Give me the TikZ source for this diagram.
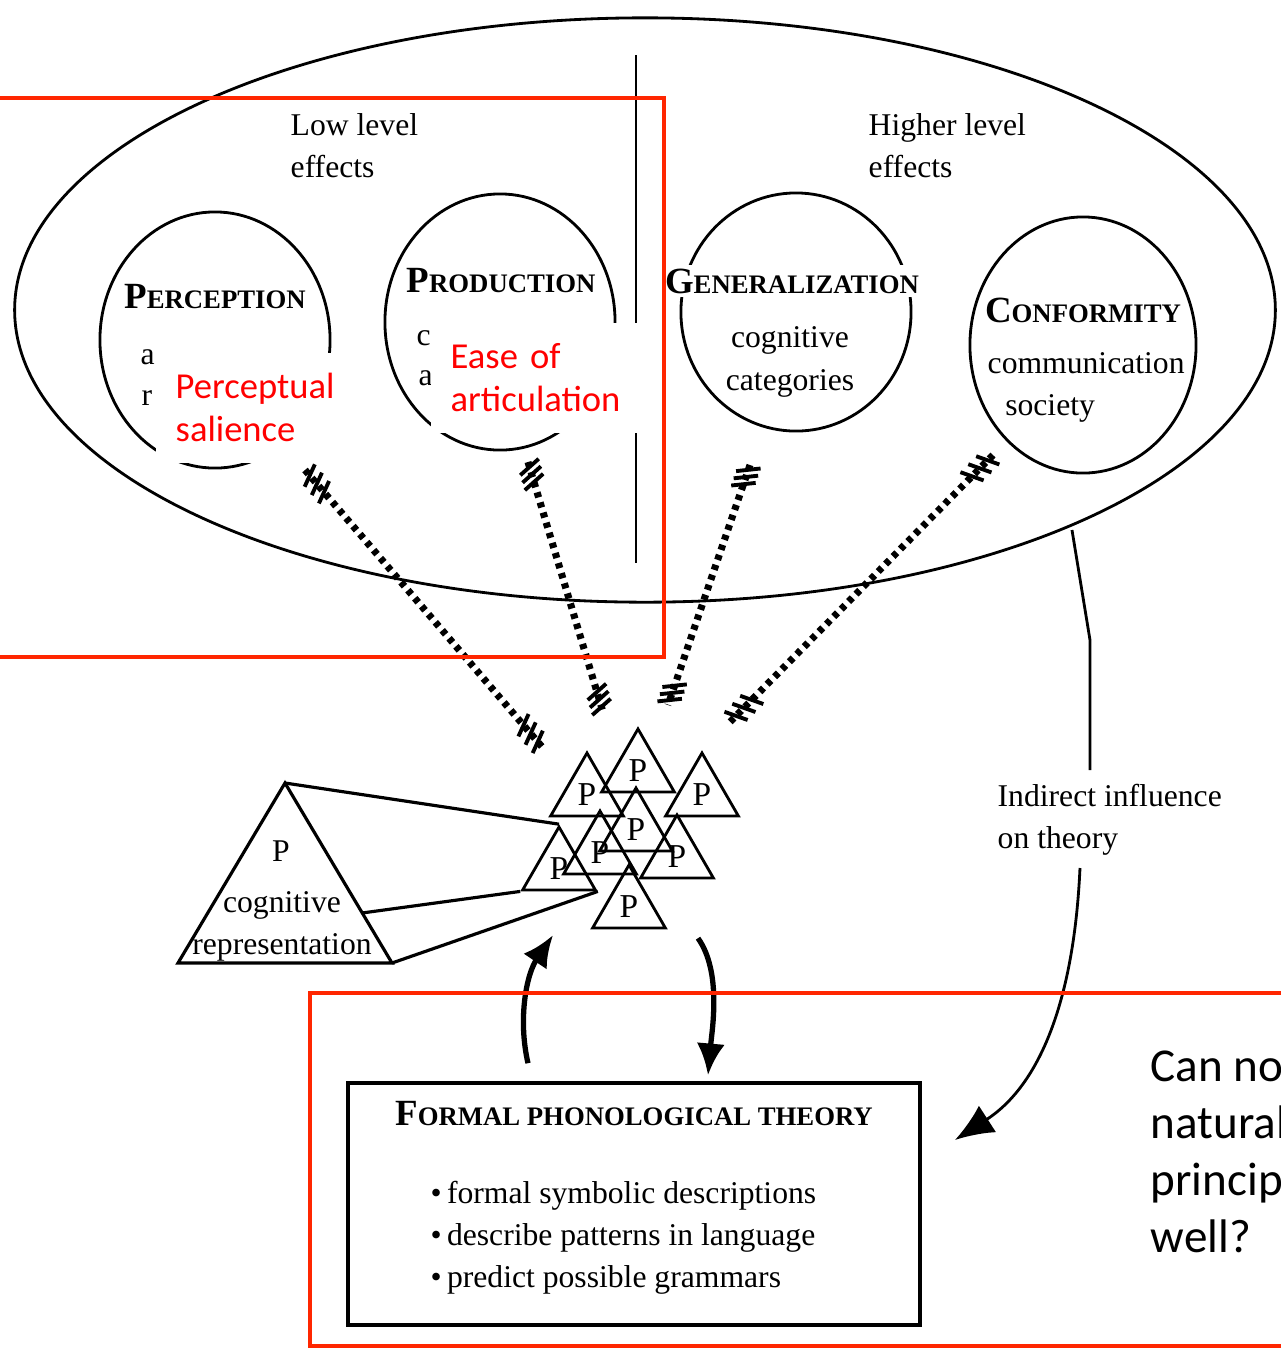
\documentclass[tikz,border=0pt]{standalone}
\usepackage{fontspec}
\setmainfont{Liberation Serif}
\newfontfamily\slidefont{Carlito}
\usetikzlibrary{positioning,arrows.meta,calc,shapes,decorations.markings}
\definecolor{slidered}{RGB}{255,38,0}

% bold fake small caps: big first letter, small rest
\newcommand{\capsc}[2]{{\bfseries\fontsize{10.5}{12}\selectfont #1\fontsize{7.6}{9}\selectfont #2}}

\tikzset{
    x=0.01cm,
    y=-0.01cm,
    effect/.style = {
        draw,
        shape=ellipse,
        inner sep=0pt,
        line width=0.8pt
    },
    efftitle/.style = {
        fill=white,
        inner sep=1pt
    },
    efftext/.style = {
        font=\fontsize{9}{12}\selectfont,
        align=left,
        inner sep=0pt
    },
    ptri/.style = {
        draw,
        shape=regular polygon,
        regular polygon sides=3,
        minimum size=0.84cm,
        inner sep=0pt,
        line width=0.8pt,
        font=\fontsize{9.5}{10}\selectfont
    },
    tick/.style = {
        solid,
        line width=1.1pt,
        rotate=25
    },
    hatched/.style = {
        line width=2pt,
        dash pattern=on 1.5pt off 1.5pt,
        postaction={decorate, decoration={markings,
            mark=at position 0.02 with {\draw[tick] (0,-3.5pt) -- (0,3.5pt);},
            mark=at position 0.05 with {\draw[tick] (0,-3.5pt) -- (0,3.5pt);},
            mark=at position 0.08 with {\draw[tick] (0,-3.5pt) -- (0,3.5pt);},
            mark=at position 0.92 with {\draw[tick] (0,-3.5pt) -- (0,3.5pt);},
            mark=at position 0.95 with {\draw[tick] (0,-3.5pt) -- (0,3.5pt);},
            mark=at position 0.98 with {\draw[tick] (0,-3.5pt) -- (0,3.5pt);}}}
    },
    redbox/.style = {
        draw=slidered,
        line width=1.2pt
    },
    note/.style = {
        fill=white,
        text=red,
        font=\slidefont\fontsize{10.4}{12.2}\selectfont,
        align=left,
        anchor=north west,
        minimum width=2.1cm,
        minimum height=1.1cm,
        text width=1.8cm,
        inner xsep=0.2cm
    },
    thickarrow/.style = {
        line width=1.5pt,
        -{Latex[length=9pt,width=8pt]}
    },
}

\begin{document}
\begin{tikzpicture}
    \useasboundingbox (0,0) rectangle (1281,1350);
    \clip (0,0) rectangle (1281,1350);

    % outer ellipse with the two halves
    \node[effect, minimum width=12.6cm, minimum height=5.84cm] (outer) at (645,310) {};
    \coordinate (divTop) at (636,55);
    \coordinate (divBot) at (636,563);
    \draw[line width=0.8pt] (divTop) -- (divBot);

    \node[efftext, anchor=north west] (low) at (290,113) {Low level\\effects};
    \node[efftext, anchor=north west] (high) at (868,113) {Higher level\\effects};

    % the four effects
    \node[effect, minimum width=2.30cm, minimum height=2.56cm] (perc) at (215,340) {};
    \node[effect, minimum width=2.30cm, minimum height=2.56cm] (prod) at (500,322) {};
    \node[effect, minimum width=2.30cm, minimum height=2.38cm] (gen) at (796,312) {};
    \node[effect, minimum width=2.26cm, minimum height=2.56cm] (conf) at (1083,345) {};

    \node[efftitle] (percT) at (215,297) {\capsc{P}{ERCEPTION}};
    \node[efftitle] (prodT) at (501,281) {\capsc{P}{RODUCTION}};
    \node[efftitle] (genT) at (792,281) {\capsc{G}{ENERALIZATION}};
    \node[efftitle] (confT) at (1083,310) {\capsc{C}{ONFORMITY}};

    \node[efftext, anchor=west] (percA) at (140,357) {a};
    \node[efftext, anchor=west] (percR) at (141,398) {r};
    \node[efftext, anchor=west] (prodC) at (416,338) {c};
    \node[efftext, anchor=west] (prodA) at (418,378) {a};
    \node[efftext, align=center] (genS) at (790,362) {cognitive\\categories};
    \node[efftext, anchor=north west] (confS) at (987,352) {communication\\\hspace{5pt}society};

    % dotted influence lines
    \coordinate (percOut) at (305,470);
    \coordinate (prodOut) at (528,462);
    \coordinate (genOut) at (750,465);
    \coordinate (confOut) at (993,455);
    \coordinate (percIn) at (543,748);
    \coordinate (prodIn) at (603,712);
    \coordinate (genIn) at (668,705);
    \coordinate (confIn) at (730,722);
    \draw[hatched] (percOut) -- (percIn);
    \draw[hatched] (prodOut) -- (prodIn);
    \draw[hatched] (genOut) -- (genIn);
    \draw[hatched] (confOut) -- (confIn);

    % cluster of P triangles
    \node[ptri] (t4) at (636,830) {P};
    \node[ptri] (t1) at (638,771) {P};
    \node[ptri] (t2) at (587,795) {P};
    \node[ptri] (t3) at (702,795) {P};
    \node[ptri] (t5) at (600,853) {P};
    \node[ptri] (t6) at (677,857) {P};
    \node[ptri] (t7) at (559,869) {P};
    \node[ptri] (t8) at (629,907) {P};

    % cognitive representation prism
    \coordinate (bigTop) at (285,783);
    \coordinate (bigLeft) at (178,963);
    \coordinate (bigRight) at (392,963);
    \coordinate (bigMid) at (362,913);
    \draw[line width=0.9pt] (bigTop) -- (bigLeft) -- (bigRight) -- cycle;
    \draw[line width=0.9pt] (bigTop) -- (t7.corner 1);
    \draw[line width=0.9pt] (bigMid) -- (t7.corner 2);
    \draw[line width=0.9pt] (bigRight) -- (t7.corner 3);
    \node[efftext] (bigP) at (281,851) {P};
    \node[efftext, align=center] (bigS) at (282,926) {cognitive\\representation};

    % formal theory box
    \node[draw, line width=1pt, minimum width=5.72cm, minimum height=2.42cm] (formal) at (634,1204) {};
    \node (formalT) at (634,1114) {\capsc{F}{ORMAL PHONOLOGICAL THEORY}};
    \node[efftext, anchor=north west] (formalS) at (430,1180)
        {\textbullet\,formal symbolic descriptions\\\textbullet\,describe patterns in language\\\textbullet\,predict possible grammars};

    \draw[thickarrow] ($(formal.north)+(-106,-18)$) .. controls (518,1020) and (526,975) .. ($(formal.north)+(-81,-146)$);
    \draw[thickarrow] ($(formal.north)+(64,-143)$) .. controls (722,972) and (712,1030) .. ($(formal.north)+(74,-6)$);

    % indirect influence
    \node[efftext, anchor=north west] (infl) at (997,783) {Indirect influence\\on theory};
    \coordinate (inflStart) at (1072,530);
    \coordinate (inflEnd) at (1080,868);
    \draw[line width=0.8pt] (inflStart) -- (1090,640) -- (1090,770);
    \draw[line width=0.8pt, -{Latex[length=11pt,width=9pt]}] (inflEnd) .. controls (1074,1000) and (1040,1085) .. ($(formal.east)+(33,-64)$);

    % slide overlay
    \draw[redbox] (-20,98) rectangle (664,657);
    \draw[redbox] (310,993) rectangle (1300,1346);
    \node[note] (salience) at (155,352) {Perceptual\\salience};
    \node[note] (ease) at (430,322) {Ease of\\articulation};
    \node[anchor=north west, align=left, inner sep=0pt,
          font=\slidefont\fontsize{13.4}{16.2}\selectfont] (question) at (1150,1050)
        {Can no\\natural\\princip\\well?};
\end{tikzpicture}
\end{document}
